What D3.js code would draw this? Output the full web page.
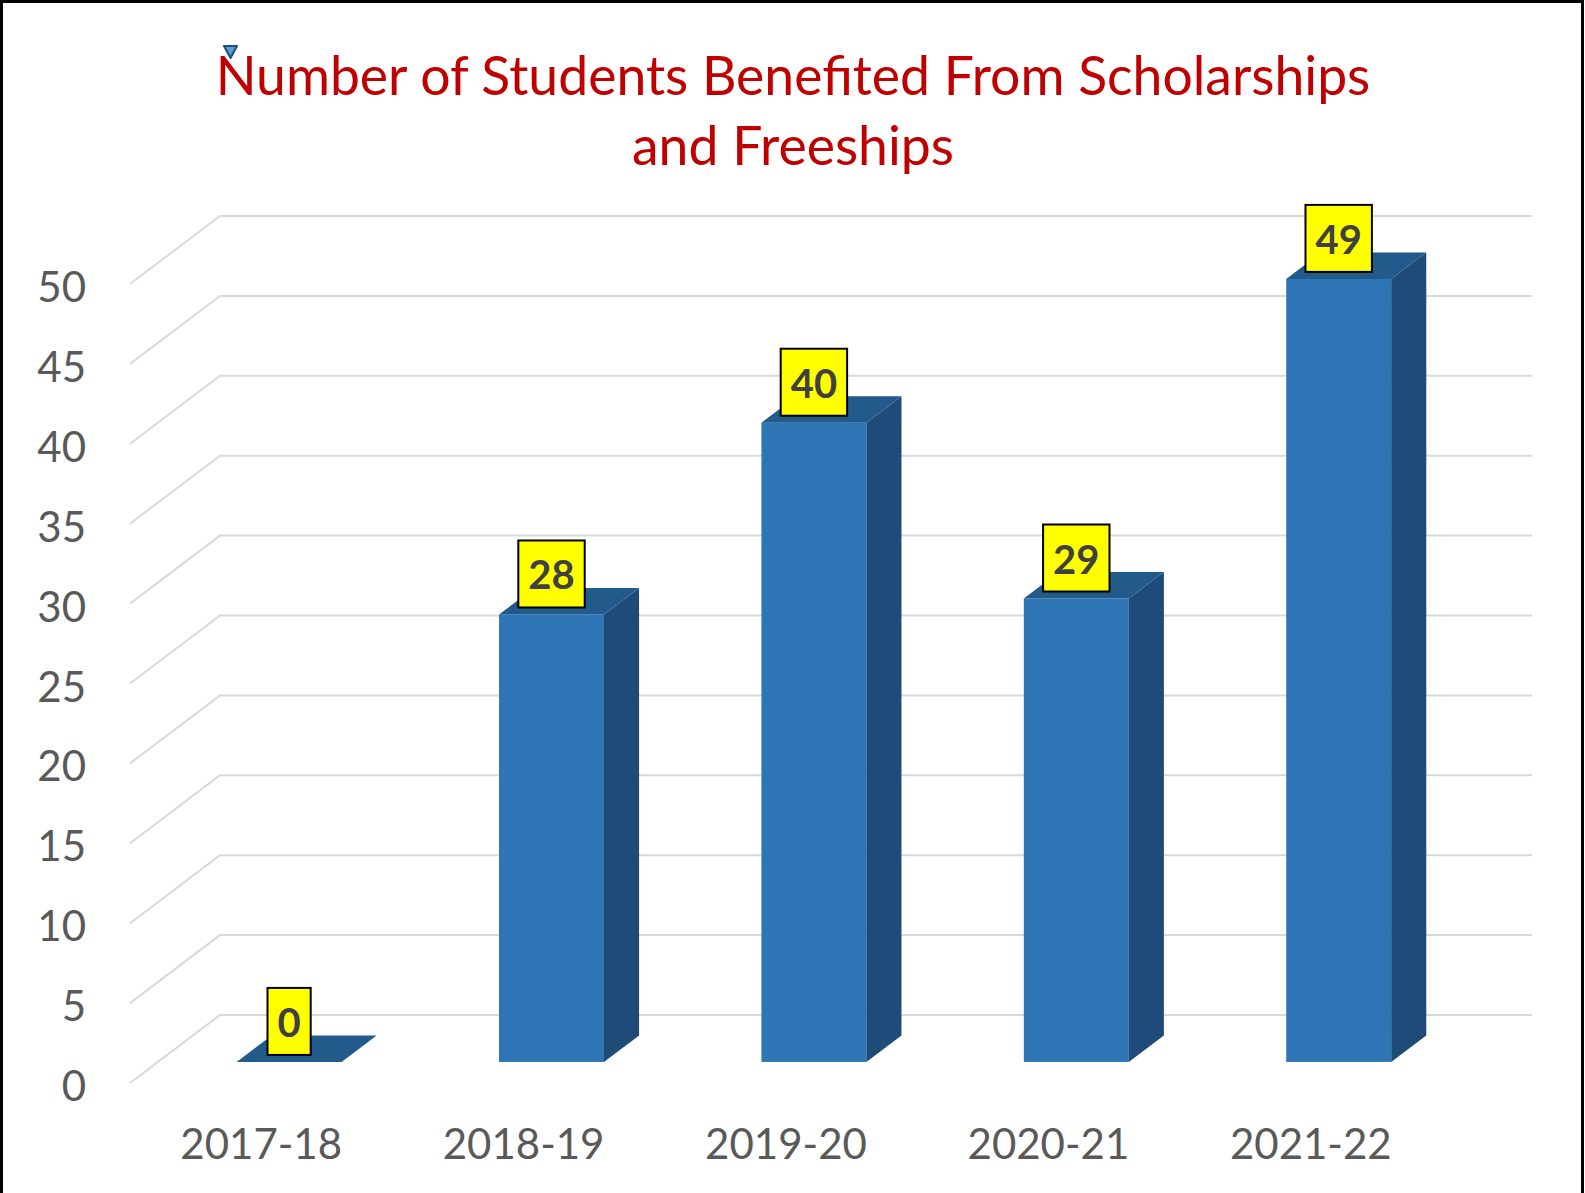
<!DOCTYPE html>
<html>
<head>
<meta charset="utf-8">
<script src="https://cdn.jsdelivr.net/npm/d3@7"></script>
<style>
  html, body { margin: 0; padding: 0; background: #fff; }
  svg { display: block; }
</style>
</head>
<body>
<svg id="chart" width="1585" height="1193"></svg>
<script>
// Chart data
const years = ["2017-18", "2018-19", "2019-20", "2020-21", "2021-22"];
const students = [0, 28, 40, 29, 49];
const yTicks = [0, 5, 10, 15, 20, 25, 30, 35, 40, 45, 50];
const titleLines = ["Number of Students Benefited From Scholarships", "and Freeships"];

const svg = d3.select("#chart");
const W = 1585, H = 1193;

// Oblique 3D frame: front plane and depth vector
const front = { left: 130, right: 1442, bottom: 1083, top: 284 };
const depth = { dx: 90, dy: -68 };
const barDepth = { d0: 0.31, d1: 0.70 };

const y = d3.scaleLinear().domain([0, 50]).range([front.bottom, front.top]);
const x = d3.scaleBand().domain(years).range([front.left, front.right])
  .paddingInner(0.6).paddingOuter(0.3);
const xLabel = d3.scalePoint().domain(years).range([front.left, front.right]).padding(0.5);

const font = "Lato, 'Open Sans', sans-serif";

// Border
svg.append("rect")
  .attr("x", 1.5).attr("y", 1.5)
  .attr("width", 1581).attr("height", H + 10)
  .attr("fill", "#fff").attr("stroke", "#000").attr("stroke-width", 3);

// Title
const title = svg.append("text")
  .attr("text-anchor", "middle")
  .attr("font-family", font)
  .attr("font-size", 53.5)
  .attr("fill", "#C00000");
titleLines.forEach((t, i) => {
  title.append("tspan").attr("x", 793).attr("y", 95 + i * 70).text(t);
});

// Small marker at the title's corner
svg.append("path")
  .attr("d", "M224,46 L237,46 L230.5,58 Z")
  .attr("fill", "#5B9BD5").attr("stroke", "#1F4E79").attr("stroke-width", 2)
  .attr("stroke-linejoin", "round");

// Gridlines: floor/side diagonal + back wall
const grid = svg.append("g").attr("fill", "none").attr("stroke", "#D9D9D9").attr("stroke-width", 2);
yTicks.forEach(t => {
  const yf = y(t);
  grid.append("path")
    .attr("d", `M${front.left},${yf} L${front.left + depth.dx},${yf + depth.dy} L${front.right + depth.dx},${yf + depth.dy}`);
});

// Y tick labels
svg.append("g")
  .selectAll("text").data(yTicks).join("text")
  .attr("x", 86).attr("y", d => y(d) + 18)
  .attr("text-anchor", "end")
  .attr("font-family", font).attr("font-size", 42)
  .attr("fill", "#595959")
  .text(d => d);

// Category labels
svg.append("g")
  .selectAll("text").data(years).join("text")
  .attr("x", d => xLabel(d)).attr("y", 1159)
  .attr("text-anchor", "middle")
  .attr("font-family", font).attr("font-size", 42)
  .attr("fill", "#595959")
  .text(d => d);

// 3D columns
const bw = x.bandwidth();
const ddx = (barDepth.d1 - barDepth.d0) * depth.dx;
const ddy = (barDepth.d1 - barDepth.d0) * depth.dy;
const bars = svg.append("g");
const labels = svg.append("g");

years.forEach((yr, i) => {
  const v = students[i];
  const x0 = x(yr) + barDepth.d0 * depth.dx;
  const x1 = x0 + bw;
  const yb = y(0) + barDepth.d0 * depth.dy;
  const yt = y(v) + barDepth.d0 * depth.dy;

  if (v > 0) {
    // front face
    bars.append("rect")
      .attr("x", x0).attr("y", yt).attr("width", bw).attr("height", yb - yt)
      .attr("fill", "#2E75B6");
    // side face
    bars.append("path")
      .attr("d", `M${x1},${yt} L${x1 + ddx},${yt + ddy} L${x1 + ddx},${yb + ddy} L${x1},${yb} Z`)
      .attr("fill", "#1F4B78");
  }
  // top face
  bars.append("path")
    .attr("d", `M${x0},${yt} L${x1},${yt} L${x1 + ddx},${yt + ddy} L${x0 + ddx},${yt + ddy} Z`)
    .attr("fill", "#235A8C");

  // value label in a yellow box
  const cx = x0 + bw / 2;
  const lg = labels.append("g");
  const txt = lg.append("text")
    .attr("x", cx).attr("y", yt - 7 - 18)
    .attr("text-anchor", "middle")
    .attr("font-family", font).attr("font-size", 40).attr("font-weight", "bold")
    .attr("fill", "#404040")
    .text(v);
  const tw = txt.node().getComputedTextLength();
  lg.insert("rect", "text")
    .attr("x", cx - tw / 2 - 10).attr("y", yt - 7 - 67)
    .attr("width", tw + 20).attr("height", 67)
    .attr("fill", "#FFFF00").attr("stroke", "#000").attr("stroke-width", 2);
});
</script>
</body>
</html>
